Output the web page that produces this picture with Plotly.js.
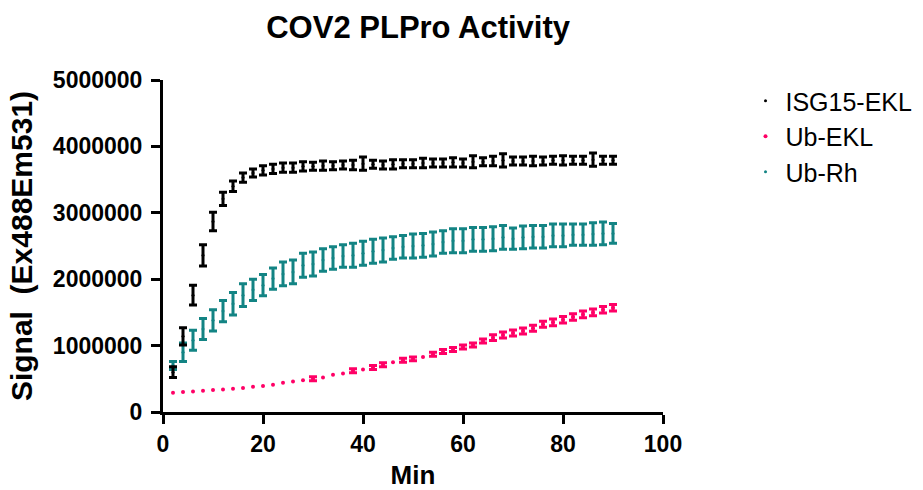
<!DOCTYPE html>
<html>
<head>
<meta charset="utf-8">
<script src="https://cdn.plot.ly/plotly-3.0.1.min.js"></script>
<style>html,body{margin:0;padding:0;background:#fff;}#chart{width:923px;height:490px;}</style>
</head>
<body>
<div id="chart"></div>
<script>
const minutes = [2,4,6,8,10,12,14,16,18,20,22,24,26,28,30,32,34,36,38,40,42,44,46,48,50,52,54,56,58,60,62,64,66,68,70,72,74,76,78,80,82,84,86,88,90];

const isgEKL = [0.60,1.14,1.76,2.36,2.87,3.21,3.40,3.53,3.60,3.64,3.66,3.68,3.68,3.70,3.70,3.71,3.71,3.72,3.72,3.74,3.73,3.72,3.73,3.74,3.74,3.75,3.75,3.75,3.76,3.75,3.77,3.77,3.78,3.79,3.78,3.78,3.78,3.78,3.79,3.79,3.79,3.79,3.80,3.79,3.79];
const isgErr = [0.08,0.13,0.15,0.16,0.14,0.10,0.08,0.07,0.06,0.07,0.07,0.07,0.07,0.07,0.06,0.07,0.06,0.06,0.07,0.10,0.06,0.06,0.07,0.06,0.06,0.07,0.06,0.06,0.07,0.06,0.09,0.06,0.07,0.10,0.06,0.06,0.07,0.06,0.06,0.07,0.06,0.06,0.10,0.06,0.06];

const ubEKL = [0.29,0.30,0.31,0.32,0.33,0.34,0.35,0.36,0.38,0.39,0.41,0.44,0.46,0.48,0.50,0.52,0.56,0.58,0.62,0.64,0.67,0.71,0.75,0.78,0.80,0.83,0.87,0.91,0.94,0.98,1.01,1.07,1.12,1.16,1.19,1.22,1.26,1.32,1.35,1.39,1.43,1.47,1.50,1.54,1.57];
const ubEKLErr = [NaN,NaN,NaN,NaN,NaN,NaN,NaN,NaN,NaN,NaN,NaN,NaN,NaN,NaN,0.03,NaN,NaN,NaN,0.03,NaN,0.03,0.03,NaN,0.03,0.03,NaN,0.03,0.03,0.03,0.03,0.03,0.03,0.045,0.045,0.045,0.045,0.045,0.045,0.05,0.05,0.05,0.05,0.05,0.05,0.05];

const ubRh = [0.70,0.90,1.08,1.25,1.38,1.52,1.63,1.76,1.84,1.91,2.01,2.08,2.11,2.21,2.23,2.29,2.32,2.35,2.36,2.39,2.42,2.44,2.47,2.49,2.50,2.51,2.53,2.56,2.58,2.58,2.60,2.60,2.61,2.63,2.61,2.63,2.64,2.64,2.66,2.66,2.67,2.67,2.68,2.69,2.69];
const ubRhErr = [0.06,0.14,0.15,0.16,0.16,0.16,0.17,0.17,0.16,0.16,0.16,0.18,0.18,0.18,0.18,0.17,0.17,0.17,0.18,0.18,0.18,0.18,0.17,0.17,0.18,0.18,0.18,0.17,0.18,0.18,0.18,0.18,0.18,0.18,0.16,0.17,0.17,0.17,0.17,0.17,0.16,0.16,0.17,0.17,0.15];

const names = ['ISG15-EKL','Ub-EKL','Ub-Rh'];
const colors = ['#000000','#ff0066','#138484'];

const M = 1e6;
const scale = a => a.map(v => v * M);

function trace(name, y, err, color, msize, order) {
  return {
    type: 'scatter', mode: 'markers', name: name,
    x: minutes, y: scale(y),
    legendgroup: name, legendrank: order,
    marker: {color: color, size: msize},
    error_y: {type: 'data', array: scale(err), visible: true, color: color, thickness: 3, width: 4}
  };
}

const data = [
  trace(names[2], ubRh, ubRhErr, colors[2], 3, 3),
  trace(names[1], ubEKL, ubEKLErr, colors[1], 4, 2),
  trace(names[0], isgEKL, isgErr, colors[0], 3, 1)
];

const F = 'Arial, "Liberation Sans", sans-serif';
const layout = {
  width: 923, height: 490,
  margin: {l: 163, r: 260, t: 80, b: 78, autoexpand: false},
  paper_bgcolor: '#fff', plot_bgcolor: '#fff',
  showlegend: true,
  title: {text: 'COV2 PLPro Activity', font: {family: F, size: 31, color: '#000', weight: 'bold'}, x: 0.453, xanchor: 'center', y: 0.945, yanchor: 'middle'},
  xaxis: {
    range: [0, 100], dtick: 20, tick0: 0,
    showgrid: false, zeroline: false,
    showline: true, linecolor: '#000', linewidth: 3,
    ticks: 'outside', ticklen: 9, tickwidth: 3, tickcolor: '#000',
    tickfont: {family: F, size: 23, color: '#000', weight: 'bold'},
    title: {text: 'Min', font: {family: F, size: 26, color: '#000', weight: 'bold'}, standoff: 20}
  },
  yaxis: {
    range: [0, 5000000], dtick: 1000000, tick0: 0, tickformat: 'd',
    showgrid: false, zeroline: false,
    showline: true, linecolor: '#000', linewidth: 3,
    ticks: 'outside', ticklen: 9, tickwidth: 3, tickcolor: '#000',
    ticklabelstandoff: 4,
    tickfont: {family: F, size: 23, color: '#000', weight: 'bold'},
    title: {text: 'Signal\u00a0\u00a0(Ex488Em531)', font: {family: F, size: 30, color: '#000', weight: 'bold'}, standoff: 12}
  },
  legend: {
    x: 1.165, y: 1.006, xanchor: 'left', yanchor: 'top',
    font: {family: F, size: 25, color: '#000'},
    tracegroupgap: 20, traceorder: 'normal',
    bgcolor: 'rgba(0,0,0,0)', itemsizing: 'trace'
  }
};

Plotly.newPlot('chart', data, layout, {displayModeBar: false, staticPlot: true});
</script>
</body>
</html>
